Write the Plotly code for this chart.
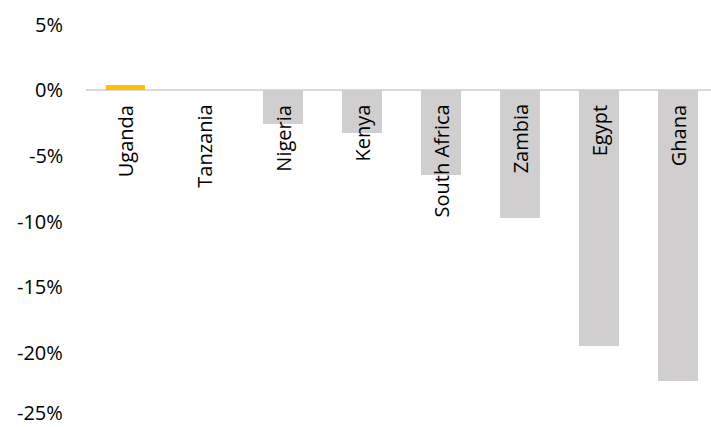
import plotly.graph_objects as go

countries = ["Uganda", "Tanzania", "Nigeria", "Kenya", "South Africa", "Zambia", "Egypt", "Ghana"]
values = [0.004, 0.0, -0.026, -0.033, -0.065, -0.0975, -0.195, -0.222]
bar_colors = ["#FFC000", "#D0CECE", "#D0CECE", "#D0CECE", "#D0CECE", "#D0CECE", "#D0CECE", "#D0CECE"]
tick_vals = [0.05, 0.0, -0.05, -0.10, -0.15, -0.20, -0.25]
tick_text = ["5%", "0%", "-5%", "-10%", "-15%", "-20%", "-25%"]

FONT = "Open Sans"

fig = go.Figure()
fig.add_trace(go.Bar(
    x=list(range(len(countries))),
    y=values,
    marker=dict(color=bar_colors, line=dict(width=0)),
    width=0.505,
    hoverinfo="skip",
))

for i, c in enumerate(countries):
    fig.add_annotation(
        x=i, y=0, xref="x", yref="y",
        text=c, textangle=-90, showarrow=False,
        xanchor="center", yanchor="top", yshift=-13,
        font=dict(family=FONT, size=20, color="#000000"),
    )

# y-axis tick labels drawn as annotations so the lowest one is not dropped
for k, (v, t) in enumerate(zip(tick_vals, tick_text)):
    last = k == len(tick_vals) - 1
    fig.add_annotation(
        x=0, y=v, xref="paper", yref="y",
        text=t, showarrow=False,
        xanchor="right", yanchor="middle", xshift=-21,
        yshift=5 if last else 0,
        font=dict(family=FONT, size=20, color="#000000"),
    )

fig.update_layout(
    width=711, height=427,
    margin=dict(l=86, r=0, t=24, b=9),
    paper_bgcolor="white", plot_bgcolor="white",
    showlegend=False,
    font=dict(family=FONT, size=20, color="#000000"),
    bargap=0,
)
fig.update_xaxes(
    range=[-0.5, 7.42], showticklabels=False, showgrid=False,
    zeroline=False, showline=False, ticks="",
)
fig.update_yaxes(
    range=[-0.2502, 0.0502], tickvals=tick_vals, showticklabels=False,
    showgrid=False, zeroline=True, zerolinecolor="#D9D9D9", zerolinewidth=2,
    showline=False, ticks="",
)

fig.write_html("out.html")
